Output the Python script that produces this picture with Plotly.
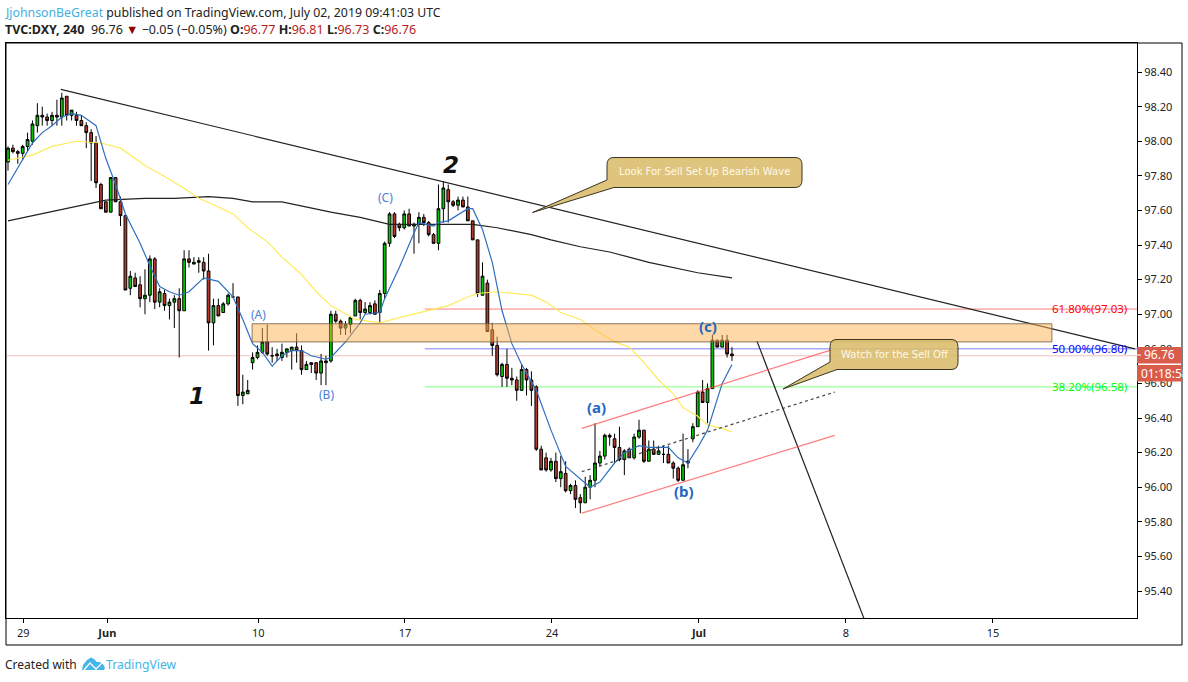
import plotly.graph_objects as go

bars = list(range(149))
open_ = [97.88,97.96,97.94,97.93,97.97,98.00,98.09,98.15,98.14,98.12,
98.15,98.14,98.26,98.15,98.15,98.12,98.09,98.05,97.99,97.75,
97.65,97.59,97.79,97.65,97.57,97.15,97.21,97.17,97.09,97.11,
97.32,97.07,97.12,97.05,97.07,97.09,97.02,97.32,97.29,97.31,
97.30,97.25,96.95,97.05,97.01,97.06,97.10,97.10,96.53,96.54,
96.72,96.75,96.78,96.84,96.76,96.76,96.75,96.78,96.79,96.81,
96.79,96.68,96.72,96.72,96.66,96.73,96.73,97.00,96.96,96.92,
96.94,96.99,97.08,97.01,97.01,97.06,97.01,97.12,97.41,97.58,
97.52,97.50,97.58,97.51,97.52,97.56,97.53,97.46,97.41,97.61,
97.72,97.65,97.63,97.66,97.62,97.54,97.43,97.11,97.18,96.91,
96.82,96.64,96.71,96.63,96.62,96.56,96.68,96.62,96.58,96.22,
96.17,96.10,96.15,96.05,96.08,95.98,96.01,95.94,95.91,96.00,
96.04,96.14,96.18,96.30,96.28,96.23,96.16,96.22,96.17,96.29,
96.33,96.15,96.22,96.19,96.19,96.19,96.14,96.11,96.04,96.15,
96.28,96.35,96.55,96.49,96.57,96.85,96.81,96.85,96.77]
high = [97.97,97.98,97.95,97.98,98.05,98.12,98.22,98.20,98.16,98.17,
98.24,98.28,98.26,98.18,98.17,98.15,98.11,98.07,98.03,97.76,
97.65,97.79,97.79,97.68,97.57,97.25,97.24,97.22,97.26,97.34,
97.33,97.15,97.14,97.09,97.11,97.15,97.37,97.37,97.33,97.33,
97.33,97.35,97.09,97.09,97.07,97.12,97.18,97.10,96.65,96.62,
96.78,96.82,96.92,96.94,96.81,96.80,96.83,96.80,96.81,96.89,
96.82,96.73,96.72,96.72,96.77,96.76,97.02,97.02,96.97,96.96,
96.99,97.09,97.09,97.07,97.07,97.08,97.14,97.42,97.59,97.59,
97.53,97.60,97.61,97.53,97.59,97.58,97.54,97.47,97.75,97.77,
97.75,97.66,97.68,97.68,97.68,97.54,97.43,97.30,97.20,96.95,
96.87,96.72,96.80,96.69,96.64,96.71,96.69,96.67,96.59,96.24,
96.20,96.17,96.20,96.18,96.15,96.02,96.04,95.96,96.06,96.07,
96.37,96.21,96.31,96.31,96.31,96.35,96.22,96.23,96.31,96.39,
96.33,96.27,96.27,96.24,96.24,96.24,96.15,96.12,96.31,96.22,
96.37,96.56,96.62,96.60,96.88,96.85,96.88,96.88,96.81]
low = [97.83,97.93,97.87,97.89,97.94,97.98,98.05,98.09,98.09,98.09,
98.09,98.09,98.12,98.12,98.09,98.09,97.96,97.77,97.73,97.61,
97.59,97.59,97.65,97.51,97.14,97.11,97.16,97.04,97.00,97.07,
97.03,97.04,97.02,96.97,96.92,96.75,97.02,97.27,97.29,97.24,
97.20,96.79,96.82,96.99,97.01,97.05,97.10,96.47,96.48,96.54,
96.68,96.74,96.77,96.76,96.72,96.73,96.73,96.75,96.68,96.72,
96.65,96.68,96.66,96.62,96.59,96.59,96.72,96.95,96.88,96.88,
96.89,96.99,96.97,97.00,97.00,97.00,96.95,97.09,97.39,97.44,
97.48,97.49,97.51,97.35,97.41,97.51,97.45,97.41,97.37,97.53,
97.53,97.62,97.60,97.62,97.54,97.43,97.10,97.11,96.90,96.76,
96.64,96.58,96.58,96.59,96.50,96.56,96.53,96.47,96.21,96.10,
96.09,96.09,96.03,96.00,95.97,95.96,95.88,95.85,95.91,95.93,
96.00,96.12,96.16,96.24,96.14,96.15,96.07,96.17,96.16,96.28,
96.14,96.15,96.19,96.19,96.14,96.14,96.05,96.03,96.04,96.11,
96.26,96.35,96.49,96.37,96.57,96.81,96.81,96.75,96.73]
close = [97.96,97.94,97.93,97.97,98.01,98.10,98.15,98.14,98.12,98.15,
98.14,98.25,98.15,98.18,98.12,98.09,98.05,97.99,97.76,97.61,
97.59,97.79,97.65,97.57,97.14,97.22,97.16,97.09,97.11,97.32,
97.07,97.13,97.05,97.07,97.09,97.02,97.32,97.30,97.30,97.30,
97.25,96.95,97.05,96.99,97.06,97.11,97.10,96.53,96.55,96.56,
96.75,96.78,96.84,96.77,96.76,96.77,96.78,96.80,96.81,96.79,
96.68,96.71,96.71,96.66,96.73,96.72,97.00,96.96,96.92,96.94,
96.98,97.08,97.01,97.03,97.05,97.00,97.12,97.41,97.58,97.45,
97.50,97.58,97.51,97.52,97.56,97.53,97.46,97.41,97.61,97.73,
97.65,97.63,97.66,97.62,97.54,97.43,97.12,97.22,96.90,96.82,
96.65,96.71,96.63,96.62,96.56,96.68,96.62,96.56,96.22,96.10,
96.10,96.15,96.05,96.09,95.98,96.01,95.93,95.91,96.00,96.04,
96.14,96.18,96.30,96.29,96.23,96.16,96.21,96.17,96.29,96.33,
96.15,96.22,96.19,96.21,96.19,96.14,96.11,96.04,96.13,96.14,
96.35,96.55,96.49,96.57,96.85,96.81,96.85,96.77,96.76]

ema_bars = [0,3,5,7,9,11,13,15,18,20,22,24,27,29,31,33,35,37,40,43,46,48,50,52,54,56,58,60,62,65,66,69,72,73,76,77,80,83,84,87,88,90,94,95,97,99,101,103,105,108,111,114,117,119,121,124,126,129,131,135,137,139,141,143,146,148]
ema_vals = [97.75,97.89,97.99,98.05,98.09,98.14,98.16,98.15,98.09,97.90,97.75,97.58,97.41,97.28,97.16,97.13,97.11,97.13,97.21,97.19,97.10,96.97,96.83,96.78,96.70,96.76,96.79,96.79,96.76,96.74,96.75,96.84,96.95,97.00,97.01,97.09,97.27,97.47,97.53,97.51,97.53,97.54,97.61,97.61,97.49,97.30,97.02,96.83,96.71,96.56,96.33,96.12,96.05,96.00,96.03,96.14,96.20,96.24,96.23,96.23,96.17,96.14,96.23,96.33,96.60,96.71]
ma50_bars = [0,5,9,14,19,23,28,33,37,39,43,46,49,53,56,60,63,66,71,76,80,83,86,90,94,96,100,103,107,110,113,117,120,124,127,130,133,136,138,141,143,146,148]
ma50_vals = [97.89,97.92,97.97,98.00,97.99,97.96,97.86,97.78,97.71,97.67,97.62,97.58,97.50,97.42,97.33,97.23,97.13,97.05,96.97,96.95,96.98,97.00,97.02,97.05,97.10,97.12,97.13,97.12,97.11,97.07,97.01,96.97,96.91,96.84,96.81,96.72,96.62,96.54,96.46,96.41,96.36,96.34,96.32]
ma200_bars = [0,5,12,17,20,28,34,41,46,50,56,66,72,78,87,95,100,107,111,117,123,131,141,148]
ma200_vals = [97.54,97.57,97.61,97.64,97.66,97.67,97.67,97.68,97.67,97.65,97.65,97.59,97.56,97.52,97.52,97.52,97.50,97.46,97.43,97.39,97.36,97.30,97.24,97.21]

time_ticks = [3.13,20.3,51.16,81.15,111.2,141.25,171.3,201.35]
time_labels = ["29","<b>Jun</b>","10","17","24","<b>Jul</b>","8","15"]
fib_levels = [97.03,96.80,96.58]
fib_labels = ["61.80%(97.03)","50.00%(96.80)","38.20%(96.58)"]
fib_colors = ["#ff0000","#0000ff","#00ff00"]
last_price = 96.76

FONT = "Noto Sans"
L,R,T,B = 6,1137,43,618
def PX(x): return (x-L)/(R-L)
def PY(y): return (B-y)/(B-T)
def path(pts, close_=True):
    s = " ".join(("M" if i==0 else "L")+f"{PX(x):.5f},{PY(y):.5f}" for i,(x,y) in enumerate(pts))
    return s+(" Z" if close_ else "")
def callout(x0,y0,x1,y1,tail,r=7):
    q = lambda a,b,c,d: f"Q{PX(a):.5f},{PY(b):.5f} {PX(c):.5f},{PY(d):.5f}"
    m = lambda a,b,c="L": f"{c}{PX(a):.5f},{PY(b):.5f}"
    return " ".join([m(x0+r,y0,"M"),m(x1-r,y0),q(x1,y0,x1,y0+r),m(x1,y1-r),q(x1,y1,x1-r,y1),
        m(tail[2][0],tail[2][1]),m(tail[1][0],tail[1][1]),m(tail[0][0],tail[0][1]),m(x0,y0+r),q(x0,y0,x0+r,y0),"Z"])

fig = go.Figure()
fig.add_trace(go.Candlestick(x=bars,open=open_,high=high,low=low,close=close,
    increasing=dict(line=dict(color="#000000",width=1),fillcolor="#00c800"),
    decreasing=dict(line=dict(color="#000000",width=1),fillcolor="#b5392a"),
    whiskerwidth=0,hoverinfo="skip",showlegend=False))
fig.add_trace(go.Scatter(x=ma200_bars,y=ma200_vals,mode="lines",line=dict(color="#222222",width=1.2),hoverinfo="skip",showlegend=False))
fig.add_trace(go.Scatter(x=ma50_bars,y=ma50_vals,mode="lines",line=dict(color="#ffeb5a",width=1.2),hoverinfo="skip",showlegend=False))
fig.add_trace(go.Scatter(x=ema_bars,y=ema_vals,mode="lines",line=dict(color="#2f6fbf",width=1.2),hoverinfo="skip",showlegend=False))

shapes = []
def line(x0,y0,x1,y1,color,width=1,dash="solid",layer="above"):
    shapes.append(dict(type="line",xref="x",yref="y",x0=x0,y0=y0,x1=x1,y1=y1,layer=layer,
                       line=dict(color=color,width=width,dash=dash)))
line(-0.4,last_price,230.8,last_price,"rgba(225,120,110,0.45)",1,layer="below")
for lv,c in zip(fib_levels,fib_colors):
    line(85.2,lv,230.8,lv,c,1,layer="below")
    shapes[-1]["opacity"]=0.5
line(10.8,98.30,230.4,96.80,"#222222",1.2)
line(153.1,96.845,175,95.24,"#222222",1.2)
line(117.3,96.34,169,96.80,"rgba(255,80,80,0.75)",1.2)
line(117.3,95.85,169,96.30,"rgba(255,80,80,0.75)",1.2)
line(117.3,96.09,169,96.55,"#444444",1.2,"dot")
shapes.append(dict(type="rect",xref="x",yref="y",x0=49.9,x1=213.4,y0=96.84,y1=96.945,layer="above",
    fillcolor="rgba(255,178,80,0.5)",line=dict(color="rgba(110,90,60,0.8)",width=1)))
for (bx,tail) in [((607,157.5,802,187.5),[(607,180),(532.5,212.5),(614,187.5)]),
                  ((830,339.5,958,369.5),[(830,362),(783,389),(837,369.5)])]:
    shapes.append(dict(type="path",xref="paper",yref="paper",path=callout(*bx,tail),layer="above",
        fillcolor="rgba(218,190,110,0.9)",line=dict(color="#3a3520",width=1)))
# last price tags and outer frame
shapes.append(dict(type="rect",xref="paper",yref="paper",x0=PX(1137),x1=PX(1182),y0=PY(363.5),y1=PY(347),layer="above",
    fillcolor="#d95c4a",line=dict(width=0)))
shapes.append(dict(type="rect",xref="paper",yref="paper",x0=PX(1137),x1=PX(1182),y0=PY(381.5),y1=PY(365),layer="above",
    fillcolor="#d95c4a",line=dict(width=0)))
shapes.append(dict(type="line",xref="paper",yref="paper",x0=PX(1137),x1=PX(1141),y0=PY(355),y1=PY(355),layer="above",
    line=dict(color="#ffffff",width=1)))
shapes.append(dict(type="rect",xref="paper",yref="paper",x0=PX(L),x1=PX(1182),y0=PY(645),y1=PY(T),layer="below",
    line=dict(color="#000000",width=1)))
# TradingView logo
shapes.append(dict(type="path",xref="paper",yref="paper",layer="above",fillcolor="#45b4e6",line=dict(width=0),
    path=path([(82,670),(83,665),(87,660),(91,657.5),(94,659),(97,662),(100,662),(103,664),(105,668),(104,670)])))
shapes.append(dict(type="path",xref="paper",yref="paper",layer="above",line=dict(color="#ffffff",width=1.3),
    path=path([(84,670),(90,663),(96,669),(102,663)],False)))

ann = []
def text(x,y,s,size=12,color="#000000",anchor="left",family=FONT,**kw):
    ann.append(dict(xref="paper",yref="paper",x=PX(x),y=PY(y),text=s,showarrow=False,xanchor=anchor,yanchor="middle",
                    font=dict(size=size,color=color,family=family),**kw))
red="#b71c1c"
text(3,12,'<span style="color:#42b0e3">JjohnsonBeGreat</span> published on TradingView.com, July 02, 2019 09:41:03 UTC',12.3,"#222222")
text(3,29,'<b>TVC:DXY, 240</b>  96.76 <span style="color:#8b0000">▼</span> −0.05 (−0.05%) '
     f'<b>O:</b><span style="color:{red}">96.77</span> <b>H:</b><span style="color:{red}">96.81</span> '
     f'<b>L:</b><span style="color:{red}">96.73</span> <b>C:</b><span style="color:{red}">96.76</span>',12.5,"#222222")
for lv,s,c in zip(fib_levels,fib_labels,fib_colors):
    text(1050,(98.816-lv)*173,s,11.5,c)
text(258,314,"(A)",12,"#4a80d8",anchor="center")
text(327,394,"(B)",12,"#4a80d8",anchor="center")
text(386,197,"(C)",12,"#4a80d8",anchor="center")
text(596,407,"<b>(a)</b>",15,"#2166c4",anchor="center")
text(684,491,"<b>(b)</b>",15,"#2166c4",anchor="center")
text(708,326,"<b>(c)</b>",15,"#2166c4",anchor="center")
text(197,396,"<b><i>1</i></b>",23,"#111111",anchor="center",family="DejaVu Sans")
text(451,165,"<b><i>2</i></b>",23,"#111111",anchor="center",family="DejaVu Sans")
text(704.5,172,"Look For Sell Set Up Bearish Wave",10,"#fff8e8",anchor="center",family="DejaVu Sans")
text(894.5,354,"Watch for the Sell Off",10,"#fff8e8",anchor="center",family="DejaVu Sans")
text(1159,355,"96.76",12,"#ffffff",anchor="center")
text(1139,373.5,"01:18:58",12,"#ffffff",width=43,align="left")
text(3,664.5,"Created with",12,"#222222")
text(104,664.5,"TradingView",12.2,"#45b4e6")

fig.update_layout(width=1188,height=682,autosize=False,margin=dict(l=L,r=1188-R,t=T,b=682-B,pad=0),
    paper_bgcolor="#ffffff",plot_bgcolor="#ffffff",showlegend=False,boxgap=0.2,
    shapes=shapes,annotations=ann,font=dict(family=FONT,size=11,color="#222222"),
    xaxis=dict(range=[-0.41,230.8],rangeslider=dict(visible=False),tickmode="array",tickvals=time_ticks,ticktext=time_labels,
        showgrid=False,zeroline=False,ticks="outside",ticklen=4,tickcolor="#000000",showline=True,mirror=True,linecolor="#000000",linewidth=1,
        ticklabelstandoff=1,tickfont=dict(size=11,family=FONT,color="#222222")),
    yaxis=dict(range=[95.244,98.568],side="right",dtick=0.2,tick0=95.4,tickformat=".2f",showgrid=False,zeroline=False,
        ticks="outside",ticklen=4,tickcolor="#000000",showline=True,mirror=True,linecolor="#000000",linewidth=1,
        tickfont=dict(size=11,family=FONT,color="#222222")))
fig.write_html("out.html",config=dict(displayModeBar=False),
    post_script="document.body.style.margin='0';document.body.style.overflow='hidden';")
